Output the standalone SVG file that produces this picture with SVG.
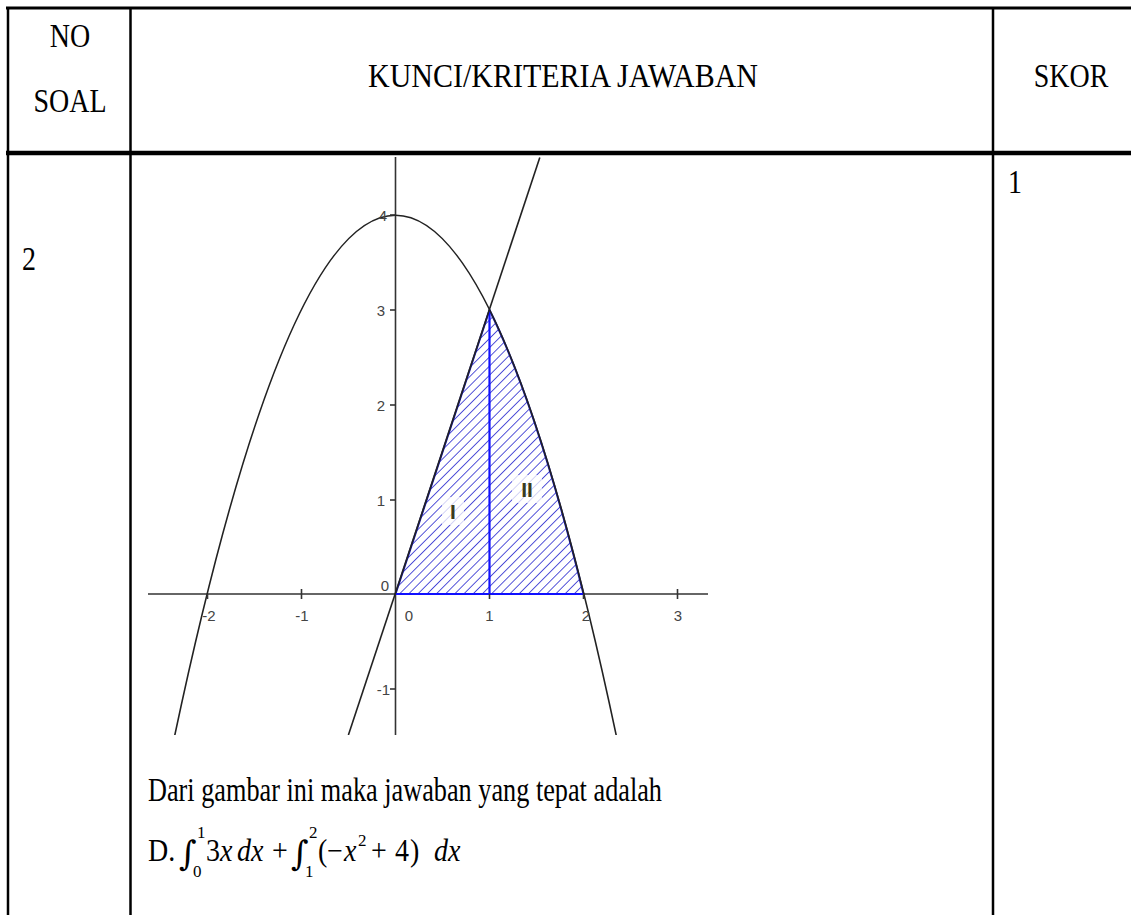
<svg xmlns="http://www.w3.org/2000/svg" width="1131" height="915" viewBox="0 0 1131 915">
<style>
.t{font-family:"Liberation Serif","Times New Roman",serif;font-size:28px;fill:#000}
.m{font-family:"Liberation Serif","DejaVu Serif",serif;font-size:28px;fill:#000}
.mi{font-style:italic}
.int{font-family:"DejaVu Serif",serif;font-size:34px;fill:#000}
.lim{font-family:"Liberation Serif",serif;font-size:17px;fill:#000}
.tk{font-family:"Liberation Sans",Arial,sans-serif;font-size:15px;fill:#444}
.rl{font-family:"Liberation Sans",Arial,sans-serif;font-size:21px;font-weight:bold;fill:#3a3a20}
.grid{stroke:#000;fill:none}
.ax{stroke:#333;stroke-width:1.6;fill:none}
.cv{stroke:#222;stroke-width:1.6;fill:none}
</style>
<defs>
<pattern id="hatch" patternUnits="userSpaceOnUse" width="6.5" height="6.5" patternTransform="rotate(45)">
<line x1="0" y1="0" x2="0" y2="6.5" stroke="#2a2ad0" stroke-width="1.6"/>
</pattern>
<clipPath id="gclip"><rect x="148" y="157" width="562" height="578"/></clipPath>
</defs>
<rect x="0" y="0" width="1131" height="915" fill="#fff"/>

<g id="table">
<line class="grid" x1="6" y1="8" x2="1131" y2="8" stroke-width="3"/>
<line class="grid" x1="8" y1="8" x2="8" y2="915" stroke-width="2.5"/>
<line class="grid" x1="130.5" y1="8" x2="130.5" y2="915" stroke-width="2.5"/>
<line class="grid" x1="993" y1="8" x2="993" y2="915" stroke-width="2.5"/>
<line class="grid" x1="6" y1="153" x2="1131" y2="153" stroke-width="4.5"/>
</g>

<g id="header">
<text class="t" transform="translate(70,47) scale(1,1.18)" text-anchor="middle">NO</text>
<text class="t" transform="translate(70,112) scale(1,1.18)" text-anchor="middle">SOAL</text>
<text class="t" transform="translate(368,87) scale(1,1.18)" textLength="390" lengthAdjust="spacingAndGlyphs">KUNCI/KRITERIA JAWABAN</text>
<text class="t" transform="translate(1071,87) scale(1,1.18)" text-anchor="middle">SKOR</text>
</g>

<g id="row-no"><text class="t" transform="translate(22,270) scale(1,1.18)">2</text></g>
<g id="row-skor"><text class="t" transform="translate(1008,193) scale(1,1.18)">1</text></g>

<g id="graph">
<g clip-path="url(#gclip)">
<path d="M395.5 594 L489.5 310 Q536.5 404.6 583.5 594 Z" fill="url(#hatch)" stroke="#1515b0" stroke-width="2"/>
<line x1="489.5" y1="594" x2="489.5" y2="310" stroke="#1010ff" stroke-width="2.2"/>
<line x1="148" y1="594" x2="708" y2="594" class="ax"/>
<line x1="395.5" y1="157" x2="395.5" y2="735" class="ax"/>
<line x1="395.5" y1="594" x2="583.5" y2="594" stroke="#1010ff" stroke-width="2.2"/>
<path d="M174.8 735.1 Q395.5 -304.7 616.2 735.1" class="cv"/>
<line x1="348.4" y1="735" x2="539.8" y2="157.4" class="cv"/>
</g>
<g class="ax" stroke-width="1.4">
<line x1="207.5" y1="594" x2="207.5" y2="599"/>
<line x1="301.5" y1="589" x2="301.5" y2="599"/>
<line x1="489.5" y1="594" x2="489.5" y2="599"/>
<line x1="583.5" y1="594" x2="583.5" y2="599"/>
<line x1="677.5" y1="589" x2="677.5" y2="599"/>
<line x1="390" y1="215" x2="395.5" y2="215"/>
<line x1="390" y1="310" x2="395.5" y2="310"/>
<line x1="390" y1="405" x2="395.5" y2="405"/>
<line x1="390" y1="500" x2="395.5" y2="500"/>
<line x1="390" y1="689" x2="395.5" y2="689"/>
</g>
<g id="ticklabels">
<text class="tk" x="387" y="221" text-anchor="end">4</text>
<text class="tk" x="385" y="316" text-anchor="end">3</text>
<text class="tk" x="385" y="411" text-anchor="end">2</text>
<text class="tk" x="385" y="506" text-anchor="end">1</text>
<text class="tk" x="389" y="591" text-anchor="end">0</text>
<text class="tk" x="390" y="695" text-anchor="end">-1</text>
<text class="tk" x="209" y="621" text-anchor="middle">-2</text>
<text class="tk" x="302" y="621" text-anchor="middle">-1</text>
<text class="tk" x="409" y="621" text-anchor="middle">0</text>
<text class="tk" x="489.5" y="621" text-anchor="middle">1</text>
<text class="tk" x="586" y="621" text-anchor="middle">2</text>
<text class="tk" x="678" y="621" text-anchor="middle">3</text>
</g>
<g id="region-labels">
<rect x="442" y="497" width="22" height="28" fill="#fff" opacity="0.75"/>
<text class="rl" x="453" y="519" text-anchor="middle">I</text>
<rect x="512" y="475" width="30" height="28" fill="#fff" opacity="0.75"/>
<text class="rl" x="527" y="497" text-anchor="middle">II</text>
</g>
</g>

<g id="answer">
<text class="t" transform="translate(148,801) scale(1,1.18)" textLength="514" lengthAdjust="spacingAndGlyphs">Dari gambar ini maka jawaban yang tepat adalah</text>
<text class="int" x="179" y="865">∫</text>
<text class="int" x="291" y="865">∫</text>
<g transform="translate(0,861) scale(1,1.12)">
<text class="m" x="148" y="0">D.</text>
<text class="m" x="206" y="0">3<tspan class="mi">x</tspan></text>
<text class="m mi" x="237" y="0">dx</text>
<text class="m" x="272" y="0">+</text>
<text class="m" x="318" y="0">(</text>
<text class="m" x="327" y="0">−</text>
<text class="m mi" x="344" y="0">x</text>
<text class="m" x="371" y="0">+</text>
<text class="m" x="395" y="0">4</text>
<text class="m" x="410" y="0">)</text>
<text class="m mi" x="434" y="0">dx</text>
</g>
<text class="lim" x="358" y="846">2</text>
<text class="lim" x="197" y="838">1</text>
<text class="lim" x="193" y="877">0</text>
<text class="lim" x="309" y="838">2</text>
<text class="lim" x="305" y="877">1</text>
</g>
</svg>
